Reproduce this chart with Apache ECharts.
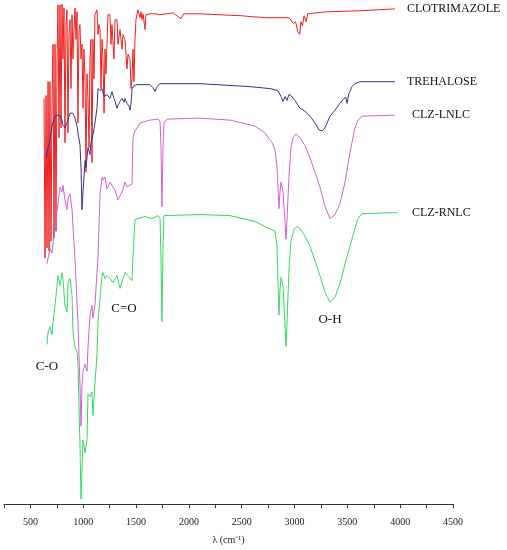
<!DOCTYPE html>
<html>
<head>
<meta charset="utf-8">
<script src="https://cdn.jsdelivr.net/npm/echarts@6/dist/echarts.min.js"></script>
<style>
  html, body { margin: 0; padding: 0; background: #fff; overflow: hidden; }
  #chart { width: 507px; height: 550px; }
</style>
</head>
<body>
<div id="chart"></div>
<script>
// FTIR spectra, [wavenumber (cm-1), transmittance (a.u., stacked)]
const clotrimazole = [
  [629, 412], [638, 250], [648, 415], [657, 260], [667, 429], [676, 257], [685, 429], [695, 267],
  [704, 402], [714, 467], [723, 270], [733, 467], [742, 277], [752, 452], [761, 507], [771, 372],
  [780, 507], [790, 382], [799, 508], [808, 452], [818, 504], [827, 367], [837, 487], [846, 502],
  [856, 377], [865, 477], [875, 492], [884, 422], [894, 497], [903, 452], [913, 482], [922, 504],
  [932, 472], [941, 500], [950, 387], [960, 482], [969, 487], [979, 452], [988, 467], [998, 402],
  [1007, 462], [1017, 432], [1026, 337], [1036, 437], [1045, 412], [1055, 362], [1064, 452],
  [1073, 472], [1083, 347], [1092, 472], [1102, 432], [1111, 497], [1130, 502], [1140, 477],
  [1149, 487], [1159, 482], [1168, 422], [1178, 472], [1187, 452], [1197, 397], [1206, 462],
  [1215, 437], [1225, 437], [1234, 497], [1253, 497], [1263, 467], [1272, 487], [1291, 452],
  [1301, 492], [1320, 492], [1329, 467], [1348, 482], [1367, 462], [1376, 477], [1395, 472],
  [1414, 442], [1424, 457], [1443, 452], [1452, 422], [1462, 432], [1471, 462], [1480, 429],
  [1490, 472], [1499, 492], [1518, 502], [1537, 494], [1547, 500], [1556, 492], [1566, 498],
  [1585, 482], [1594, 497], [1632, 498], [1679, 498], [1727, 497], [1850, 499], [1925, 493],
  [1950, 498], [2100, 498], [2300, 497], [2500, 496], [2600, 495], [2750, 494], [2950, 494],
  [2990, 488], [3010, 490], [3030, 480], [3050, 477], [3060, 490], [3075, 486], [3090, 496],
  [3110, 490], [3125, 498], [3300, 500], [3600, 501], [3951, 503]
];
const trehalose = [
  [648, 352], [667, 362], [685, 369], [704, 384], [733, 394], [761, 395], [780, 395], [799, 390],
  [808, 385], [827, 382], [846, 387], [875, 397], [903, 397], [922, 392], [941, 384], [950, 377],
  [969, 365], [979, 342], [988, 299], [998, 317], [1007, 332], [1017, 349], [1026, 342], [1045, 362],
  [1064, 355], [1073, 367], [1092, 375], [1111, 387], [1130, 402], [1140, 422], [1159, 420],
  [1178, 422], [1197, 414], [1206, 412], [1225, 416], [1234, 415], [1253, 412], [1272, 419],
  [1291, 412], [1301, 409], [1320, 402], [1329, 405], [1348, 409], [1367, 412], [1386, 408],
  [1395, 412], [1414, 407], [1433, 404], [1443, 400], [1452, 407], [1462, 422], [1480, 425],
  [1509, 426], [1632, 426], [1660, 423], [1679, 419], [1698, 424], [1727, 427], [2105, 427],
  [2578, 424], [2768, 422], [2843, 420], [2872, 414], [2891, 409], [2910, 414], [2928, 410],
  [2947, 416], [2966, 415], [3004, 410], [3052, 402], [3099, 399], [3146, 394], [3194, 387],
  [3231, 380], [3260, 379], [3288, 382], [3336, 394], [3383, 400], [3430, 407], [3468, 412],
  [3487, 413], [3497, 407], [3515, 417], [3544, 424], [3572, 427], [3619, 429], [3951, 429]
];
const clzLnlc = [
  [657, 244], [685, 259], [704, 255], [733, 282], [761, 305], [780, 322], [799, 317], [808, 324],
  [827, 309], [846, 299], [856, 310], [875, 315], [894, 299], [903, 282], [922, 249], [950, 185],
  [969, 122], [979, 79], [988, 120], [998, 135], [1017, 142], [1036, 135], [1045, 159], [1064, 192],
  [1083, 202], [1092, 189], [1111, 202], [1130, 235], [1140, 252], [1159, 315], [1178, 332],
  [1187, 329], [1206, 332], [1225, 320], [1253, 327], [1282, 322], [1301, 319], [1329, 309],
  [1367, 317], [1395, 327], [1414, 322], [1443, 324], [1462, 325], [1471, 372], [1490, 379],
  [1509, 382], [1537, 387], [1632, 390], [1708, 391], [1727, 389], [1736, 362], [1745, 302],
  [1755, 362], [1764, 387], [1793, 391], [2105, 392], [2389, 390], [2626, 384], [2720, 377],
  [2787, 367], [2815, 360], [2834, 342], [2843, 322], [2853, 300], [2862, 317], [2872, 327],
  [2891, 317], [2910, 287], [2919, 269], [2928, 287], [2947, 332], [2966, 362], [2985, 372],
  [3014, 376], [3052, 372], [3099, 364], [3146, 352], [3194, 337], [3241, 322], [3288, 302],
  [3336, 290], [3383, 294], [3430, 305], [3478, 327], [3525, 357], [3553, 372], [3572, 382],
  [3601, 390], [3638, 394], [3951, 395]
];
const clzRnlc = [
  [657, 162], [667, 175], [685, 180], [704, 172], [714, 185], [733, 202], [752, 222], [761, 232],
  [780, 222], [799, 235], [808, 229], [827, 202], [846, 195], [856, 225], [875, 229], [894, 212],
  [903, 175], [922, 159], [941, 155], [950, 142], [969, 62], [979, 5], [998, 65], [1017, 52],
  [1036, 65], [1045, 112], [1064, 109], [1083, 114], [1092, 90], [1111, 122], [1130, 152],
  [1140, 185], [1159, 209], [1178, 232], [1187, 235], [1206, 229], [1225, 232], [1253, 229],
  [1282, 225], [1320, 232], [1348, 219], [1376, 229], [1395, 235], [1424, 232], [1462, 227],
  [1471, 252], [1490, 289], [1518, 290], [1585, 292], [1651, 290], [1708, 293], [1727, 290],
  [1736, 250], [1745, 185], [1755, 260], [1764, 293], [2105, 294], [2389, 293], [2626, 287],
  [2720, 282], [2815, 277], [2834, 262], [2843, 227], [2853, 192], [2862, 217], [2872, 230],
  [2891, 222], [2910, 182], [2919, 160], [2928, 182], [2947, 237], [2966, 267], [2995, 279],
  [3024, 282], [3052, 280], [3099, 272], [3146, 262], [3194, 247], [3241, 232], [3288, 215],
  [3336, 205], [3383, 210], [3430, 224], [3478, 244], [3525, 262], [3572, 280], [3601, 290],
  [3638, 295], [3970, 296]
];
const seriesNames = ["CLOTRIMAZOLE", "TREHALOSE", "CLZ-LNLC", "CLZ-RNLC"];
const bandLabels = ["C-O", "C=O", "O-H"];
const bandCoords = [[657, 140], [1386, 199], [3336, 187]];

const serif = "Liberation Serif";
const chart = echarts.init(document.getElementById("chart"));

const makeSeries = (name, data, color, gap) => ({
  name: name,
  type: "line",
  data: data,
  showSymbol: false,
  symbol: "none",
  lineStyle: { color: color, width: 1 },
  itemStyle: { color: color },
  endLabel: {
    show: true,
    formatter: "{a}",
    distance: gap,
    color: "#111",
    fontFamily: serif,
    fontSize: 12,
  },
});

const series = [
  makeSeries(seriesNames[0], clotrimazole, "#ee2222", 12),
  makeSeries(seriesNames[1], trehalose, "#33338f", 12),
  makeSeries(seriesNames[2], clzLnlc, "#d45ed4", 17),
  makeSeries(seriesNames[3], clzRnlc, "#38d866", 15),
];

// band annotations
series[3].markPoint = {
  symbol: "circle",
  symbolSize: 0,
  silent: true,
  label: {
    show: true,
    position: "inside",
    color: "#111",
    fontFamily: serif,
    fontSize: 13,
    formatter: (p) => p.name,
  },
  data: bandLabels.map((t, i) => ({ name: t, coord: bandCoords[i] })),
};

const options = {
  animation: false,
  grid: { left: 4, right: 54, top: 0, bottom: 38 },
  xAxis: {
    type: "value",
    min: 250,
    max: 4500,
    interval: 250,
    name: "λ (cm⁻¹)",
    nameLocation: "middle",
    nameGap: 31,
    nameTextStyle: { fontFamily: serif, fontSize: 10, color: "#222" },
    axisLine: { lineStyle: { color: "#333", width: 1 } },
    axisTick: { length: 4, lineStyle: { color: "#333" } },
    axisLabel: {
      margin: 13,
      fontFamily: serif,
      fontSize: 10,
      color: "#222",
      formatter: (v) => (v % 500 === 0 ? String(v) : ""),
    },
    splitLine: { show: false },
  },
  yAxis: {
    type: "value",
    min: 0,
    max: 512,
    show: false,
  },
  series: series,
};

chart.setOption(options);
</script>
</body>
</html>
